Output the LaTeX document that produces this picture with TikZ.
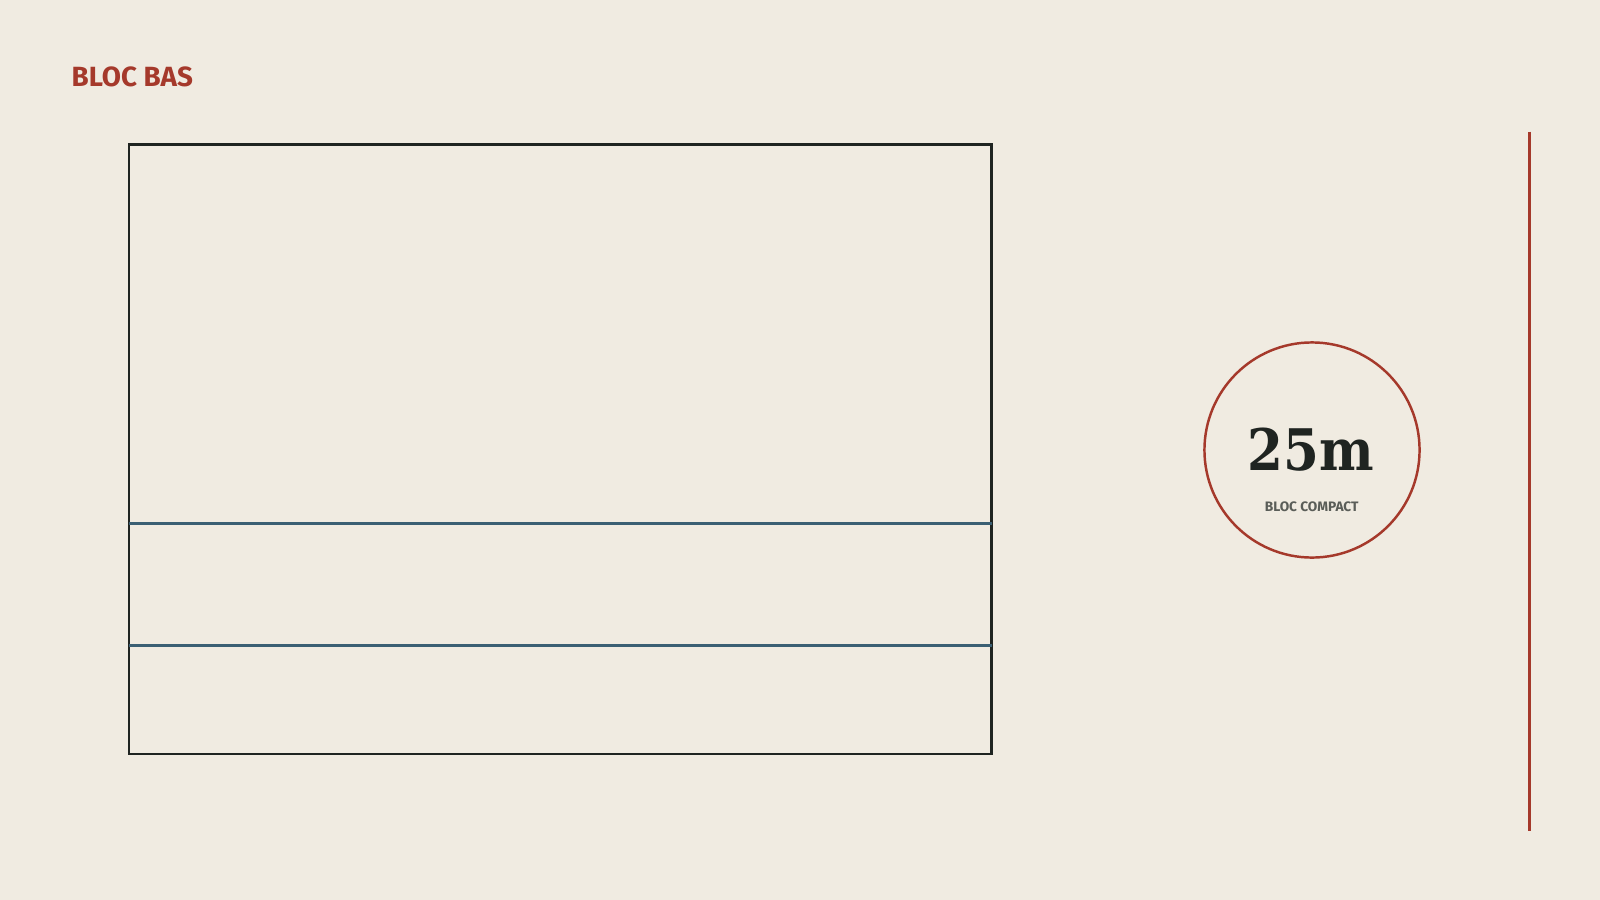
\documentclass[tikz,border=0pt]{standalone}
\usepackage{fontspec}
\setmainfont{Fira Sans}
\newfontfamily\slabfont{DejaVu Serif Condensed}
\definecolor{paper}{HTML}{F0EBE1}
\definecolor{brick}{HTML}{A5392B}
\definecolor{ink}{HTML}{1F2421}
\definecolor{slate}{HTML}{3B5F73}
\definecolor{stone}{HTML}{5A5D58}
\begin{document}
\begin{tikzpicture}[x=0.01cm, y=-0.01cm]
	\fill[paper] (0, 0) rectangle (1600, 900);
	\node[anchor=base west, inner sep=0, text=brick, font=\fontsize{7.9}{9}\selectfont\bfseries] (title) at (71, 86.7) {BLOC BAS};
	\draw[ink, line width=0.6pt] (129, 144.5) rectangle (991.5, 754);
	\draw[slate, line width=1.05pt] (129, 523.5) -- (991.5, 523.5);
	\draw[slate, line width=1.05pt] (129, 645.5) -- (991.5, 645.5);
	\draw[brick, line width=0.7pt] (1312, 450) circle [radius=1.075cm];
	\node[anchor=base, inner sep=0, text=ink, font=\slabfont\fontsize{16.3}{18}\selectfont\bfseries] (dist) at (1311, 470) {25m};
	\node[anchor=base, inner sep=0, text=stone, font=\fontsize{3.9}{5}\selectfont\bfseries] (label) at (1311.7, 511) {BLOC COMPACT};
	\draw[brick, line width=0.7pt] (1529.5, 131.5) -- (1529.5, 831);
\end{tikzpicture}
\end{document}
